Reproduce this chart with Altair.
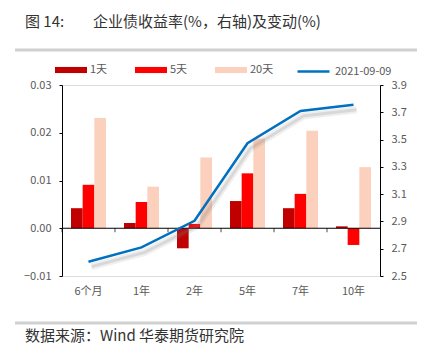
import altair as alt
import pandas as pd

categories = ["6个月", "1年", "2年", "5年", "7年", "10年"]
series = ["1天", "5天", "20天"]
chg_1d = [0.0042, 0.0011, -0.0042, 0.0057, 0.0042, 0.0004]
chg_5d = [0.0091, 0.0055, 0.0009, 0.0115, 0.0072, -0.0035]
chg_20d = [0.0231, 0.0087, 0.0148, 0.0188, 0.0204, 0.0128]
line_name = "2021-09-09"
yield_0909 = [2.605, 2.71, 2.905, 3.473, 3.71, 3.755]
left_ticks = [-0.01, 0.0, 0.01, 0.02, 0.03]
right_ticks = [2.5, 2.7, 2.9, 3.1, 3.3, 3.5, 3.7, 3.9]

bar_colors = ["#C00000", "#FF0000", "#FBD0BC"]
line_color = "#0070C0"
FONT = "Noto Sans CJK SC"
GRAY = "#595959"

rows = []
for s, vals in zip(series, [chg_1d, chg_5d, chg_20d]):
    for c, v in zip(categories, vals):
        rows.append({"cat": c, "series": s, "value": v})
bar_df = pd.DataFrame(rows)
line_df = pd.DataFrame({"cat": categories, "yield": yield_0909, "name": line_name})
dummy = pd.DataFrame({"a": [0]})

x_enc = alt.X(
    "cat:N", sort=categories,
    scale=alt.Scale(paddingInner=0, paddingOuter=0),
    axis=alt.Axis(title=None, domain=False, ticks=False, labelAngle=0,
                  labelPadding=9, labelColor=GRAY, labelFontSize=11, labelFont=FONT),
)

bars = alt.Chart(bar_df).mark_bar().encode(
    x=x_enc,
    xOffset=alt.XOffset("series:N", sort=series,
                        scale=alt.Scale(paddingInner=0, paddingOuter=0.77)),
    y=alt.Y("value:Q",
            scale=alt.Scale(domain=[-0.01, 0.03], nice=False, zero=False),
            axis=alt.Axis(title=None, values=left_ticks, format=".2f", grid=False,
                          domainColor="black", tickColor="black", tickSize=3,
                          labelPadding=8, labelColor=GRAY, labelFontSize=11)),
    color=alt.Color("series:N", sort=series,
                    scale=alt.Scale(domain=series, range=bar_colors),
                    legend=alt.Legend(orient="none", legendX=-7, legendY=-31,
                                      direction="horizontal", title=None,
                                      symbolType="M-1,-0.19L1,-0.19L1,0.19L-1,0.19Z",
                                      symbolSize=1024, symbolStrokeWidth=0,
                                      labelOffset=3, columnPadding=27,
                                      labelColor=GRAY, labelFontSize=11, labelFont=FONT)),
)

zero_rule = alt.Chart(dummy).mark_rule(color="black", strokeWidth=1).encode(y=alt.datum(0))
zero_ticks = alt.Chart(pd.DataFrame({"cat": categories})).mark_tick(
    orient="vertical", size=4, thickness=1, color="black", yOffset=2
).encode(x=alt.X("cat:N", sort=categories, bandPosition=0), y=alt.datum(0))

bar_layer = alt.layer(bars, zero_rule, zero_ticks)

y_line = alt.Y("yield:Q",
               scale=alt.Scale(domain=[2.5, 3.9], nice=False, zero=False),
               axis=alt.Axis(title=None, orient="right", values=right_ticks, format=".1f",
                             grid=False, domainColor="black", tickColor="black", tickSize=3,
                             labelPadding=8, labelColor=GRAY, labelFontSize=11))

shadow_wide = alt.Chart(line_df).mark_line(
    color="#7f7f7f", opacity=0.12, strokeWidth=7, xOffset=3, yOffset=5
).encode(x=x_enc, y=y_line)
shadow_core = alt.Chart(line_df).mark_line(
    color="#7f7f7f", opacity=0.2, strokeWidth=3, xOffset=3, yOffset=5
).encode(x=x_enc, y=y_line)

line = alt.Chart(line_df).mark_line(strokeWidth=2.5).encode(
    x=x_enc, y=y_line,
    stroke=alt.Stroke("name:N", scale=alt.Scale(domain=[line_name], range=[line_color]),
                      legend=alt.Legend(orient="none", legendX=234, legendY=-31, title=None,
                                        symbolType="stroke", symbolSize=1024,
                                        symbolStrokeWidth=2.5, labelOffset=4,
                                        labelColor=GRAY, labelFontSize=11, labelFont=FONT)),
)
line_layer = alt.layer(shadow_wide, shadow_core, line)

title1 = alt.Chart(dummy).mark_text(align="left", baseline="middle", fontSize=15,
                                    font=FONT, color="#333333").encode(
    x=alt.value(-37), y=alt.value(-63), text=alt.value("图 14:"))
title2 = alt.Chart(dummy).mark_text(align="left", baseline="middle", fontSize=15,
                                    font=FONT, color="#333333").encode(
    x=alt.value(31), y=alt.value(-63), text=alt.value("企业债收益率(%，右轴)及变动(%)"))
source = alt.Chart(dummy).mark_text(align="left", baseline="middle", fontSize=15,
                                    font=FONT, color="#333333").encode(
    x=alt.value(-37), y=alt.value(251), text=alt.value("数据来源：Wind  华泰期货研究院"))
sep_top = alt.Chart(dummy).mark_rule(color="#D0D0D0", strokeWidth=3).encode(
    x=alt.value(-47), x2=alt.value(355), y=alt.value(-35))
sep_bot = alt.Chart(dummy).mark_rule(color="#D0D0D0", strokeWidth=3).encode(
    x=alt.value(-47), x2=alt.value(355), y=alt.value(238))

chart = alt.layer(
    bar_layer, line_layer, title1, title2, source, sep_top, sep_bot
).resolve_scale(y="independent").properties(
    width=318, height=191,
    autosize=alt.AutoSizeParams(type="none"),
    padding={"left": 54, "top": 77, "right": 39, "bottom": 70},
).configure_view(stroke=None).configure(font=FONT)

chart.save("out.html", embed_options={"renderer": "svg", "actions": False})
